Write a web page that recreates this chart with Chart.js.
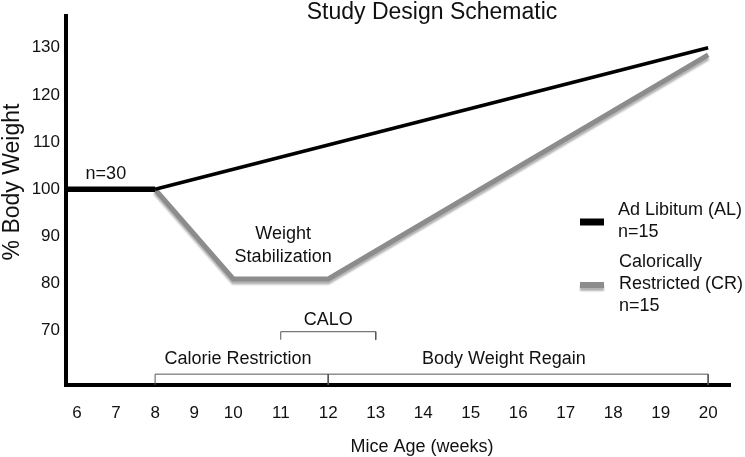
<!DOCTYPE html>
<html lang="en">
<head>
<meta charset="UTF-8">
<title>Study Design Schematic</title>
<script src="https://cdn.jsdelivr.net/npm/chart.js"></script>
<style>
    html, body {
        margin: 0;
        padding: 0;
        background: #ffffff;
    }
</style>
</head>
<body>
<canvas id="schematic" width="745" height="457"></canvas>

<script>
    // axis ticks
    const weekTicks = [6, 7, 8, 9, 10, 11, 12, 13, 14, 15, 16, 17, 18, 19, 20];
    const weightTicks = [70, 80, 90, 100, 110, 120, 130];

    // all 30 mice together until week 8 (line starts at the y axis)
    const sharedWeeks = [5.72, 8];
    const sharedWeight = [100, 100];

    // Ad Libitum (AL)
    const alWeeks = [8, 20];
    const alWeight = [100, 130];

    // Calorically Restricted (CR)
    const crWeeks = [8, 10, 12, 20];
    const crWeight = [100, 81, 81, 128.5];

    // phase brackets [from week, to week]
    const restrictionSpan = [8, 12];
    const regainSpan = [12, 20];
    const caloSpan = [11, 13];

    const FONT = "'Liberation Sans', Arial, Helvetica, sans-serif";
    Chart.defaults.font.family = FONT;
    Chart.defaults.color = '#111';

    // the figure packs weeks 6-10 a bit tighter than 10-20
    function squeeze(w) {
        return w >= 10 ? w : 10 - (10 - w) * 0.823;
    }

    class WarpScale extends Chart.LinearScale {
        static id = 'warp';
        static defaults = Chart.LinearScale.defaults;

        getPixelForValue(value) {
            if (value === null || value === undefined) return NaN;
            const a = squeeze(this.min), b = squeeze(this.max);
            return this.getPixelForDecimal((squeeze(value) - a) / (b - a));
        }
    }
    Chart.register(WarpScale);

    function points(xs, ys) {
        return xs.map((x, i) => ({x: x, y: ys[i]}));
    }

    function bracket(span, low, high) {
        return [
            {x: span[0], y: low},
            {x: span[0], y: high},
            {x: span[1], y: high},
            {x: span[1], y: low}
        ];
    }

    function bracketSet(span, low, high) {
        return {
            data: bracket(span, low, high),
            borderColor: '#555',
            borderWidth: 1,
            pointRadius: 0,
            order: 5
        };
    }

    const CR_INDEX = 2;

    // shadow under the gray CR line
    const shadowPlugin = {
        id: 'crShadow',
        beforeDatasetDraw(chart, args) {
            if (args.index !== CR_INDEX) return;
            const ctx = chart.ctx;
            ctx.save();
            ctx.shadowColor = 'rgba(0,0,0,0.3)';
            ctx.shadowOffsetY = 3;
            ctx.shadowBlur = 2;
        },
        afterDatasetDraw(chart, args) {
            if (args.index !== CR_INDEX) return;
            chart.ctx.restore();
        }
    };

    function text(ctx, str, x, y, size, align) {
        ctx.font = size + 'px ' + FONT;
        ctx.textAlign = align || 'center';
        ctx.textBaseline = 'alphabetic';
        ctx.fillText(str, x, y);
    }

    // titles, labels and the legend
    const notesPlugin = {
        id: 'notes',
        afterDraw(chart) {
            const ctx = chart.ctx;
            const xs = chart.scales.x, ys = chart.scales.y;
            const area = chart.chartArea;
            ctx.save();
            ctx.fillStyle = '#111';

            text(ctx, 'Study Design Schematic', area.left + 366, 18.5, 23);
            text(ctx, 'n=30', xs.getPixelForValue(6.74), ys.getPixelForValue(102.1), 18);
            text(ctx, 'Weight', xs.getPixelForValue(11.05), ys.getPixelForValue(89.5), 18);
            text(ctx, 'Stabilization', xs.getPixelForValue(11.05), ys.getPixelForValue(84.5), 18);
            text(ctx, 'CALO', xs.getPixelForValue(12), ys.getPixelForValue(71.3), 18);
            text(ctx, 'Calorie Restriction', xs.getPixelForValue(10.1), ys.getPixelForValue(62.9), 18);
            text(ctx, 'Body Weight Regain', xs.getPixelForValue(15.7), ys.getPixelForValue(62.9), 18);

            // axis titles
            text(ctx, 'Mice Age (weeks)', (area.left + area.right) / 2 + 24, 452, 18);
            ctx.save();
            ctx.translate(18.5, 182);
            ctx.rotate(-Math.PI / 2);
            text(ctx, '% Body Weight', 0, 0, 23);
            ctx.restore();

            // legend
            const lx = 580, tx = 618;
            ctx.lineCap = 'butt';
            ctx.strokeStyle = '#000';
            ctx.lineWidth = 7;
            ctx.beginPath();
            ctx.moveTo(lx, 222);
            ctx.lineTo(lx + 24, 222);
            ctx.stroke();
            text(ctx, 'Ad Libitum (AL)', tx, 215, 18, 'left');
            text(ctx, 'n=15', tx, 237, 18, 'left');

            ctx.save();
            ctx.shadowColor = 'rgba(0,0,0,0.3)';
            ctx.shadowOffsetY = 3;
            ctx.shadowBlur = 2;
            ctx.strokeStyle = '#8c8c8c';
            ctx.lineWidth = 6;
            ctx.beginPath();
            ctx.moveTo(lx, 285);
            ctx.lineTo(lx + 24, 285);
            ctx.stroke();
            ctx.restore();
            text(ctx, 'Calorically', tx + 1, 267, 18, 'left');
            text(ctx, 'Restricted (CR)', tx + 1, 289, 18, 'left');
            text(ctx, 'n=15', tx + 1, 311, 18, 'left');

            ctx.restore();
        }
    };

    const chart = new Chart(document.getElementById('schematic'), {
        type: 'line',
        data: {
            datasets: [
                {
                    label: 'n=30',
                    data: points(sharedWeeks, sharedWeight),
                    borderColor: '#000',
                    borderWidth: 5.5,
                    pointRadius: 0,
                    order: 0
                },
                {
                    label: 'Ad Libitum (AL)',
                    data: points(alWeeks, alWeight),
                    borderColor: '#000',
                    borderWidth: 3.5,
                    pointRadius: 0,
                    order: 1
                },
                {
                    label: 'Calorically Restricted (CR)',
                    data: points(crWeeks, crWeight),
                    borderColor: '#8c8c8c',
                    borderWidth: 5,
                    borderJoinStyle: 'miter',
                    pointRadius: 0,
                    order: 2
                },
                bracketSet(restrictionSpan, 58.5, 60.8),
                bracketSet(regainSpan, 58.5, 60.8),
                bracketSet(caloSpan, 68.1, 69.8)
            ]
        },
        options: {
            responsive: false,
            animation: false,
            events: [],
            layout: {
                padding: {top: 12, right: 15, left: 0, bottom: 0}
            },
            plugins: {
                legend: {display: false},
                title: {display: false},
                tooltip: {enabled: false}
            },
            scales: {
                x: {
                    type: 'warp',
                    min: 5.72,
                    max: 20.46,
                    afterBuildTicks: s => { s.ticks = weekTicks.map(v => ({value: v})); },
                    afterFit: s => { s.height = 72; },
                    grid: {display: false, drawTicks: false},
                    border: {display: true, color: '#000', width: 4},
                    ticks: {
                        font: {size: 17},
                        color: '#111',
                        padding: 18,
                        maxRotation: 0,
                        autoSkip: false
                    }
                },
                y: {
                    type: 'linear',
                    min: 58.5,
                    max: 136.7,
                    afterBuildTicks: s => { s.ticks = weightTicks.map(v => ({value: v})); },
                    afterFit: s => { s.width = 66; },
                    grid: {display: false, drawTicks: false},
                    border: {display: true, color: '#000', width: 4},
                    ticks: {
                        font: {size: 17},
                        color: '#111',
                        padding: 6
                    }
                }
            }
        },
        plugins: [shadowPlugin, notesPlugin]
    });
</script>
</body>
</html>
